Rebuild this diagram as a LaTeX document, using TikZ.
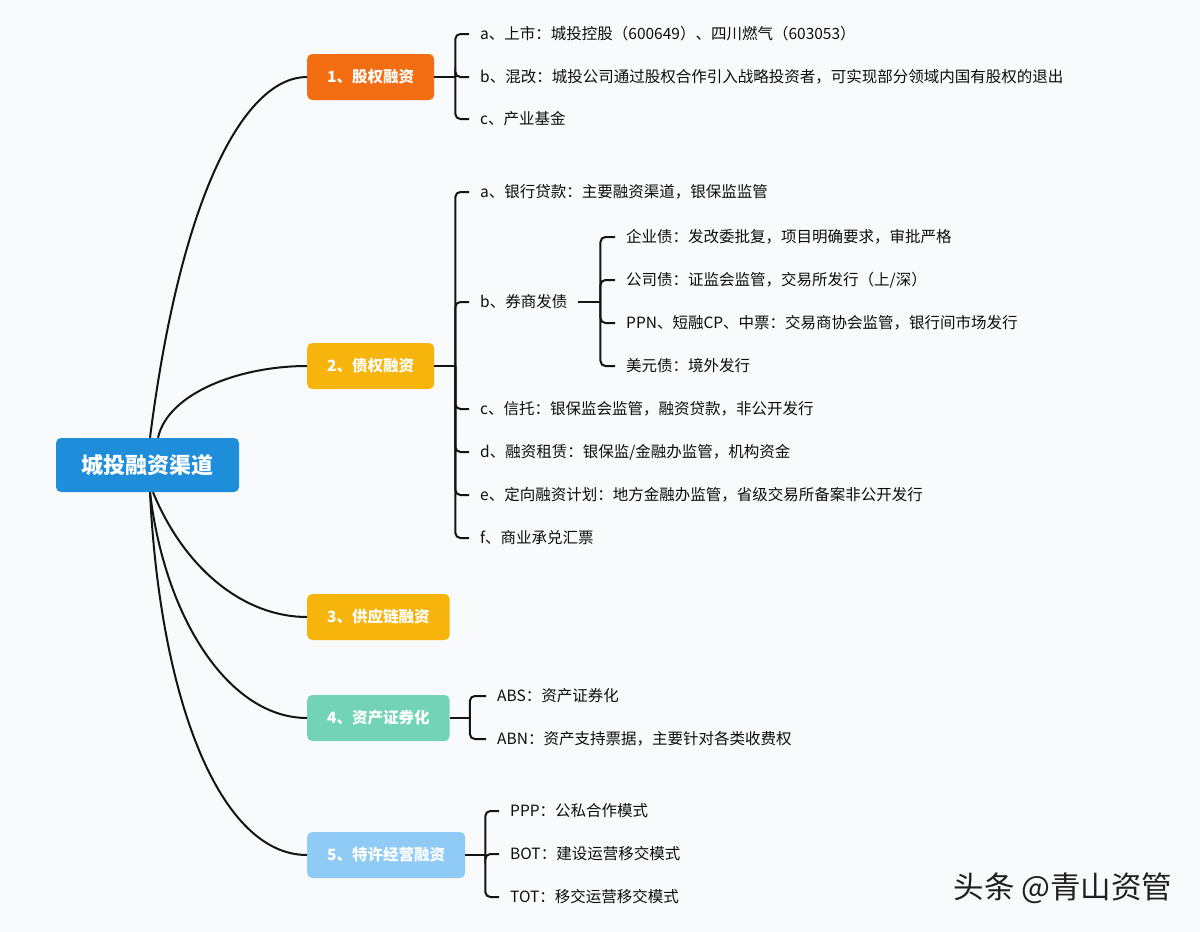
\documentclass[tikz,border=0pt]{standalone}
\usepackage{fontspec}
\setmainfont{Noto Sans CJK SC}
\definecolor{pagebg}{HTML}{F9FAFC}
\definecolor{rootblue}{HTML}{1E8EDB}
\definecolor{equityorange}{HTML}{F36D12}
\definecolor{debtyellow}{HTML}{F7B40C}
\definecolor{absgreen}{HTML}{72D4B4}
\definecolor{pppblue}{HTML}{8FCBF5}
\begin{document}
\begin{tikzpicture}[x=1pt, y=-1pt,
    link/.style={line width=2pt, black!92},
    bracket/.style={link, rounded corners=5pt},
    topic/.style={rounded corners=5pt, text=white, font=\fontsize{15.5}{18}\selectfont\bfseries,
      inner xsep=20pt, minimum height=46pt, anchor=west},
    leaf/.style={anchor=west, inner xsep=11pt, text=black!95, font=\fontsize{15.5}{18}\selectfont}]
    \fill [pagebg] (0,0) rectangle (1200,932);
    \node [fill=rootblue, rounded corners=5pt, text=white, font=\fontsize{22}{26}\selectfont\bfseries,
      minimum width=183pt, minimum height=54pt] (root) at (147.5,465) {城投融资渠道};
    \node [topic, fill=equityorange] (equity) at (307,77) {1、股权融资};
    \node [topic, fill=debtyellow] (debt) at (307,366) {2、债权融资};
    \node [topic, fill=debtyellow] (supply) at (307,617) {3、供应链融资};
    \node [topic, fill=absgreen] (abs) at (307,718) {4、资产证券化};
    \node [topic, fill=pppblue] (ppp) at (307,855) {5、特许经营融资};
    \node [leaf] (e1) at (469,34) {a、上市：城投控股（600649）、四川燃气（603053）};
    \node [leaf] (e2) at (469,77) {b、混改：城投公司通过股权合作引入战略投资者，可实现部分领域内国有股权的退出};
    \node [leaf] (e3) at (469,119) {c、产业基金};
    \node [leaf] (d1) at (469,192) {a、银行贷款：主要融资渠道，银保监监管};
    \node [leaf] (d2) at (469,302) {b、券商发债};
    \node [leaf] (d3) at (469,409) {c、信托：银保监会监管，融资贷款，非公开发行};
    \node [leaf] (d4) at (469,452) {d、融资租赁：银保监/金融办监管，机构资金};
    \node [leaf] (d5) at (469,495) {e、定向融资计划：地方金融办监管，省级交易所备案非公开发行};
    \node [leaf] (d6) at (469,538) {f、商业承兑汇票};
    \node [leaf] (b1) at (615,237) {企业债：发改委批复，项目明确要求，审批严格};
    \node [leaf] (b2) at (615,280) {公司债：证监会监管，交易所发行（上/深）};
    \node [leaf] (b3) at (615,323) {PPN、短融CP、中票：交易商协会监管，银行间市场发行};
    \node [leaf] (b4) at (615,366) {美元债：境外发行};
    \node [leaf] (a1) at (486,696) {ABS：资产证券化};
    \node [leaf] (a2) at (486,739) {ABN：资产支持票据，主要针对各类收费权};
    \node [leaf] (p1) at (499,811) {PPP：公私合作模式};
    \node [leaf] (p2) at (499,854) {BOT：建设运营移交模式};
    \node [leaf] (p3) at (499,897) {TOT：移交运营移交模式};
    \node [anchor=west, text=black!88, font=\fontsize{30.5}{34}\selectfont] (mark) at (950,888) {头条 @青山资管};
    \draw [link] ([xshift=2.5pt]root.north) .. controls +(32,-251) and +(-60,0) .. (equity.west);
    \draw [link] ([xshift=10.5pt]root.north) .. controls +(10,-45) and +(-67,0) .. (debt.west);
    \draw [link] ([xshift=5.5pt]root.south) .. controls +(32,78) and +(-62,0) .. (supply.west);
    \draw [link] ([xshift=2.5pt]root.south) .. controls +(15,128) and +(-77,0) .. (abs.west);
    \draw [link] ([xshift=2.5pt]root.south) .. controls +(10,208) and +(-87,0) .. (ppp.west);
    \draw [link] (equity.east) -- ++(21,0) coordinate (ej);
    \foreach \n in {e1,e2,e3} \draw [bracket] (ej) |- (\n.west);
    \draw [link] (debt.east) -- ++(21,0) coordinate (dj);
    \foreach \n in {d1,d2,d3,d4,d5,d6} \draw [bracket] (dj) |- (\n.west);
    \draw [link] (d2.east) -- ++(22,0) coordinate (bj);
    \foreach \n in {b1,b2,b3,b4} \draw [bracket] (bj) |- (\n.west);
    \draw [link] (abs.east) -- ++(20,0) coordinate (aj);
    \foreach \n in {a1,a2} \draw [bracket] (aj) |- (\n.west);
    \draw [link] (ppp.east) -- ++(20,0) coordinate (pj);
    \foreach \n in {p1,p2,p3} \draw [bracket] (pj) |- (\n.west);
  \end{tikzpicture}
\end{document}
